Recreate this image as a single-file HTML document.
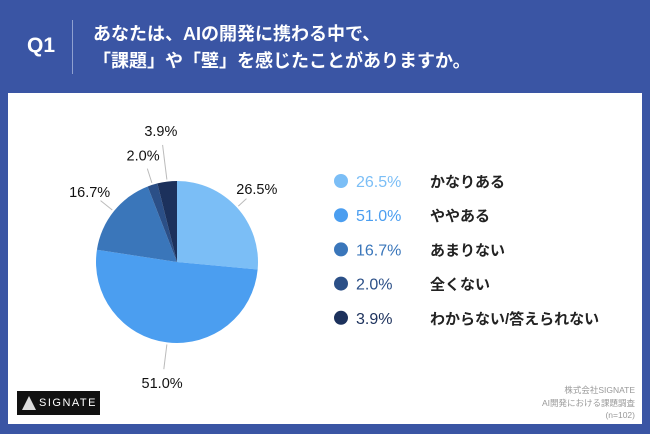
<!DOCTYPE html>
<html><head><meta charset="utf-8">
<style>
body{margin:0;width:650px;height:434px;background:#3a55a4;overflow:hidden;font-family:"Liberation Sans","Noto Sans CJK JP",sans-serif;position:relative}
#panel{position:absolute;left:8px;top:93px;width:634px;height:331px;background:#fff}
.hd{position:absolute;color:#fff}
</style></head><body>
<div class="hd" style="left:27px;top:34px;font-size:21px;font-weight:bold">Q1</div>
<div style="position:absolute;left:72px;top:20px;width:1px;height:54px;background:#8fa0d0"></div>
<div class="hd" style="left:93px;top:21px;font-size:18px;line-height:27px;font-weight:bold">あなたは、AIの開発に携わる中で、<br>「課題」や「壁」を感じたことがありますか。</div>
<div id="panel"></div>
<svg id="chart" width="650" height="434" style="position:absolute;left:0;top:0"></svg>
<div style="position:absolute;left:17px;top:391px;width:83px;height:24px;background:#111;color:#fff;font-size:11px;letter-spacing:1.5px;line-height:24px;box-sizing:border-box;padding-left:22px">
<span style="position:absolute;left:5px;top:5px;width:0;height:0;border-left:7px solid transparent;border-right:7px solid transparent;border-bottom:14px solid #ddd"></span>SIGNATE</div>
<div style="position:absolute;right:15px;top:384px;text-align:right;color:#999;font-size:8.5px;line-height:12.5px">株式会社SIGNATE<br>AI開発における課題調査<br>(n=102)</div>
<script>
const categories=["かなりある","ややある","あまりない","全くない","わからない/答えられない"];
const values=[26.5,51.0,16.7,2.0,3.9];
const colors=["#7bbef6","#4b9ef0","#3a76ba","#2b4f87","#1c315c"];
const labelDist=[108,122,112,112,132];
const svg=document.getElementById('chart');
const NS='http://www.w3.org/2000/svg';
const cx=177,cy=262,r=81;
const total=values.reduce((a,b)=>a+b,0);
function pt(a,rad){return [cx+rad*Math.sin(a),cy-rad*Math.cos(a)];}
function mk(t,attrs){const e=document.createElementNS(NS,t);for(const k in attrs)e.setAttribute(k,attrs[k]);svg.appendChild(e);return e;}
let acc=0;
values.forEach((v,i)=>{
  const a0=acc/total*2*Math.PI;acc+=v;const a1=acc/total*2*Math.PI;
  const p0=pt(a0,r),p1=pt(a1,r);
  const p=mk('path',{d:`M${cx},${cy}L${p0[0]},${p0[1]}A${r},${r} 0 ${a1-a0>Math.PI?1:0} 1 ${p1[0]},${p1[1]}Z`,fill:colors[i]});
  
  
  const m=(a0+a1)/2;
  const l0=pt(m,r+2),l1=pt(m,labelDist[i]-14);
  const ln=mk('line',{x1:l0[0],y1:l0[1],x2:l1[0],y2:l1[1],stroke:'#bbb','stroke-width':1});
  
  
  const lp=pt(m,labelDist[i]);
  const t=mk('text',{x:lp[0],y:lp[1]+5,'text-anchor':'middle','font-size':14.5,'font-weight':'500',fill:'#111','font-family':'Liberation Sans, sans-serif'});
  t.textContent=v.toFixed(1)+'%';
  
  
  const y=181+i*34.2;
  const c=mk('circle',{cx:341,cy:y,r:7,fill:colors[i]});
  
  
  const pt2=mk('text',{x:356,y:y+6,'font-size':16,fill:colors[i],'font-family':'Liberation Sans, sans-serif'});
  pt2.textContent=v.toFixed(1)+'%';
  
  
  const lt=mk('text',{x:430,y:y+6,'font-size':15,'font-weight':'bold',fill:'#222','font-family':'Liberation Sans, Noto Sans CJK JP, sans-serif'});
  lt.textContent=categories[i];
  
  
});
</script>
</body></html>
